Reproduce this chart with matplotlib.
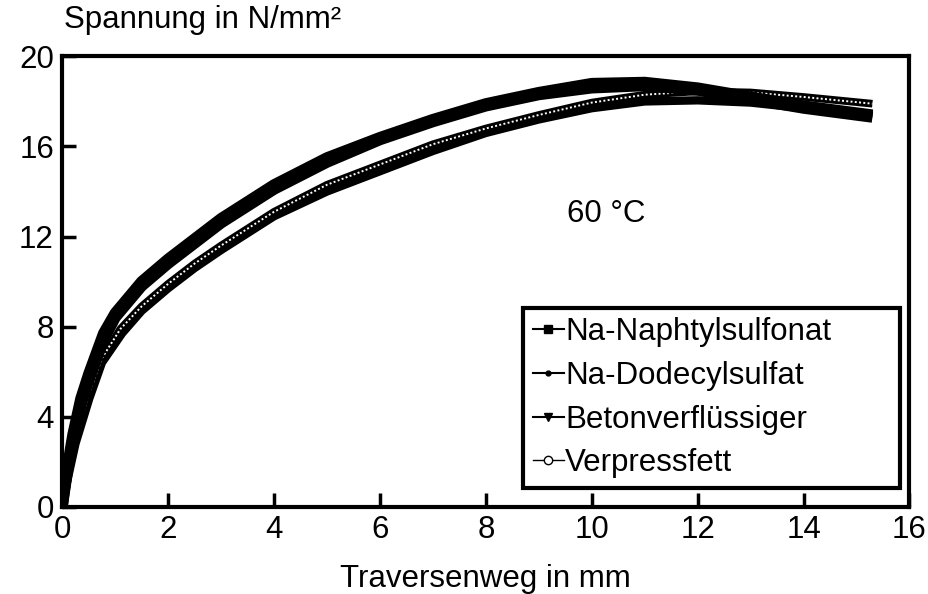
import matplotlib.pyplot as plt
from matplotlib.lines import Line2D

plt.rcParams['font.family'] = ['Liberation Sans', 'DejaVu Sans']

# --- Messdaten (Traversenweg in mm, Spannung in N/mm²) ---
x_naph = [0, 0.1, 0.2, 0.35, 0.5, 0.78, 1.0, 1.5, 2, 2.5, 3, 4, 5, 6, 7, 8, 9, 10, 11, 12, 13, 14, 15.3]
y_naph = [0, 1.8, 3.2, 4.8, 5.9, 7.7, 8.6, 10.0, 11.0, 11.9, 12.8, 14.3, 15.5, 16.4, 17.2, 17.9, 18.4, 18.8, 18.85, 18.6, 18.2, 17.8, 17.4]

x_dodec = [0, 0.1, 0.25, 0.51, 0.75, 1.13, 1.5, 2, 2.5, 3, 4, 5, 6, 7, 8, 9, 10, 11, 12, 13, 14, 15.3]
y_dodec = [0, 1.2, 2.8, 4.8, 6.4, 7.7, 8.7, 9.7, 10.6, 11.4, 12.9, 14.0, 14.9, 15.8, 16.6, 17.2, 17.7, 18.0, 18.05, 17.95, 17.7, 17.4]

x_beton = [0, 0.1, 0.2, 0.35, 0.5, 0.78, 1.0, 1.5, 2, 2.5, 3, 4, 5, 6, 7, 8, 9, 10, 11, 12, 13, 14, 15.3]
y_beton = [0, 1.6, 3.0, 4.5, 5.6, 7.4, 8.4, 9.8, 10.8, 11.7, 12.6, 14.1, 15.3, 16.3, 17.1, 17.8, 18.3, 18.6, 18.7, 18.5, 18.1, 17.7, 17.3]

x_fett = [0, 0.1, 0.25, 0.5, 0.75, 1.1, 1.5, 2, 2.5, 3, 4, 5, 6, 7, 8, 9, 10, 11, 12, 13, 14, 15.3]
y_fett = [0, 1.3, 3.0, 5.0, 6.6, 7.9, 8.9, 9.9, 10.8, 11.6, 13.1, 14.3, 15.2, 16.1, 16.8, 17.4, 17.95, 18.3, 18.45, 18.4, 18.2, 17.9]

labels = ['Na-Naphtylsulfonat', 'Na-Dodecylsulfat', 'Betonverflüssiger', 'Verpressfett']
x_ticks = [0, 2, 4, 6, 8, 10, 12, 14, 16]
y_ticks = [0, 4, 8, 12, 16, 20]

fs = 22.5

fig = plt.figure(figsize=(9.29, 5.94), dpi=100)
ax = fig.add_axes([0.067, 0.147, 0.912, 0.758])

# dichte Messpunkte -> als breite Linien gezeichnet
ax.plot(x_dodec, y_dodec, color='black', lw=6, solid_capstyle='butt')
ax.plot(x_fett, y_fett, color='black', lw=5.5, solid_capstyle='butt')
ax.plot(x_fett, y_fett, color='white', lw=1.4, ls=(0, (1, 1.2)))
ax.plot(x_beton, y_beton, color='black', lw=8, solid_capstyle='butt')
ax.plot(x_naph, y_naph, color='black', lw=8, solid_capstyle='butt')

ax.set_xlim(0, 16)
ax.set_ylim(0, 20)
ax.set_xticks(x_ticks)
ax.set_yticks(y_ticks)
ax.tick_params(direction='in', length=10, width=2.5, labelsize=fs, pad=6,
               top=False, right=False)
for s in ax.spines.values():
    s.set_linewidth(3)

ax.set_xlabel('Traversenweg in mm', fontsize=fs, labelpad=14)
fig.text(0.069, 0.966, 'Spannung in N/mm²', fontsize=fs, ha='left', va='center')
ax.text(9.54, 13.0, '60 °C', fontsize=fs, ha='left', va='center')

handles = [
    Line2D([], [], color='black', lw=1.5, marker='s', markersize=6),
    Line2D([], [], color='black', lw=1.5, marker='o', markersize=3.5),
    Line2D([], [], color='black', lw=1.5, marker='v', markersize=6),
    Line2D([], [], color='black', lw=1.0, marker='o', markersize=6,
           markerfacecolor='white'),
]
leg = ax.legend(handles, labels, loc='lower left', mode='expand',
                bbox_to_anchor=(0.544, 0.042, 0.445, 0.4),
                fontsize=fs, frameon=True, fancybox=False, handlelength=1.0,
                handletextpad=0.05, labelspacing=0.44, borderpad=0.3,
                borderaxespad=0)
leg.get_frame().set_edgecolor('black')
leg.get_frame().set_linewidth(3)
leg.get_frame().set_alpha(1)

fig.savefig('out.png', dpi=100)
